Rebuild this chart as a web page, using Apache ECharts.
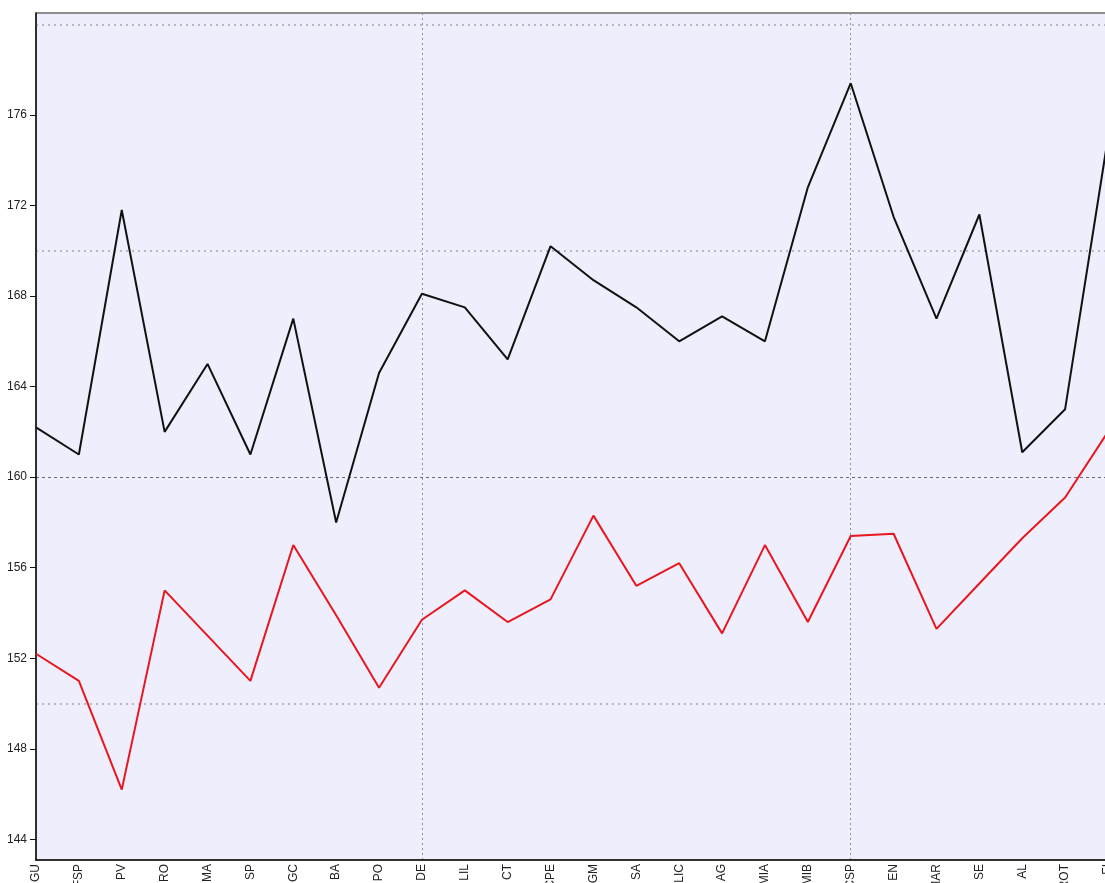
<!DOCTYPE html>
<html>
<head>
<meta charset="utf-8">
<script src="https://cdn.jsdelivr.net/npm/echarts@6/dist/echarts.min.js"></script>
<style>
  html, body { margin: 0; padding: 0; background: #ffffff; }
  #chart { width: 1105px; height: 883px; }
</style>
</head>
<body>
<div id="chart"></div>
<script>
// Site codes along the horizontal axis
const categories = ['GU', 'FSP', 'PV', 'RO', 'MA', 'SP', 'GC', 'BA', 'PO', 'DE',
  'LIL', 'CT', 'CPE', 'SGM', 'SA', 'LIC', 'AG', 'MIA', 'MIB', 'CSP',
  'EN', 'MAR', 'SE', 'AL', 'ROT', 'FI'];

// Upper series (black)
const upperValues = [162.2, 161.0, 171.8, 162.0, 165.0, 161.0, 167.0, 158.0, 164.6, 168.1,
  167.5, 165.2, 170.2, 168.7, 167.5, 166.0, 167.1, 166.0, 172.8, 177.4,
  171.5, 167.0, 171.6, 161.1, 163.0, 175.0];

// Lower series (red)
const lowerValues = [152.2, 151.0, 146.2, 155.0, 153.0, 151.0, 157.0, 153.9, 150.7, 153.7,
  155.0, 153.6, 154.6, 158.3, 155.2, 156.2, 153.1, 157.0, 153.6, 157.4,
  157.5, 153.3, 155.3, 157.3, 159.1, 162.0];

// Labelled ticks on the value axis
const yTickValues = [144, 148, 152, 156, 160, 164, 168, 172, 176];
// Reference lines across the plot
const yLightLines = [150, 170, 180];
const yDarkLines = [160];

const yMin = 143.09;
const yMax = 180.5;

const chart = echarts.init(document.getElementById('chart'), null, { renderer: 'canvas' });

const hiddenAxisBase = {
  type: 'value',
  min: yMin,
  max: yMax,
  axisLine: { show: false },
  axisLabel: { show: false },
  axisTick: { show: false }
};

chart.setOption({
  animation: false,
  backgroundColor: '#ffffff',
  grid: {
    left: 36,
    right: -3,
    top: 13,
    bottom: 23,
    outerBoundsMode: 'none',
    containLabel: false,
    show: true,
    backgroundColor: '#eeeefd',
    borderColor: '#6e6e6e',
    borderWidth: 1.5
  },
  xAxis: {
    type: 'category',
    data: categories,
    boundaryGap: false,
    axisLine: { show: true, lineStyle: { color: '#111111', width: 1.5 } },
    axisTick: { show: false },
    axisLabel: {
      rotate: 90,
      interval: 0,
      margin: 4,
      hideOverlap: false,
      color: '#222222',
      fontFamily: 'Liberation Sans, Arial, sans-serif',
      fontSize: 12
    },
    splitLine: {
      show: true,
      interval: function (index) { return index % 10 === 9; },
      lineStyle: { color: '#8e8e9a', type: [2, 3], width: 1 }
    }
  },
  yAxis: [
    {
      type: 'value',
      min: yMin,
      max: yMax,
      axisLine: { show: true, lineStyle: { color: '#111111', width: 1.5 } },
      axisTick: { show: true, length: 6, customValues: yTickValues, lineStyle: { color: '#111111' } },
      axisLabel: {
        customValues: yTickValues,
        margin: 9,
        color: '#222222',
        fontFamily: 'Liberation Sans, Arial, sans-serif',
        fontSize: 12
      },
      splitLine: { show: false }
    },
    Object.assign({}, hiddenAxisBase, {
      axisTick: { show: false, customValues: yLightLines },
      axisLabel: { show: false, customValues: yLightLines },
      splitLine: { show: true, lineStyle: { color: '#a8a8b4', type: [2, 4], width: 1.5 } }
    }),
    Object.assign({}, hiddenAxisBase, {
      axisTick: { show: false, customValues: yDarkLines },
      axisLabel: { show: false, customValues: yDarkLines },
      splitLine: { show: true, lineStyle: { color: '#6a6a74', type: [3, 3], width: 1 } }
    })
  ],
  series: [
    {
      type: 'line',
      name: 'upper',
      data: upperValues,
      yAxisIndex: 0,
      showSymbol: false,
      symbol: 'none',
      lineStyle: { color: '#111111', width: 2 },
      z: 3
    },
    {
      type: 'line',
      name: 'lower',
      data: lowerValues,
      yAxisIndex: 0,
      showSymbol: false,
      symbol: 'none',
      lineStyle: { color: '#e8161e', width: 2 },
      z: 3
    }
  ]
});
</script>
</body>
</html>
